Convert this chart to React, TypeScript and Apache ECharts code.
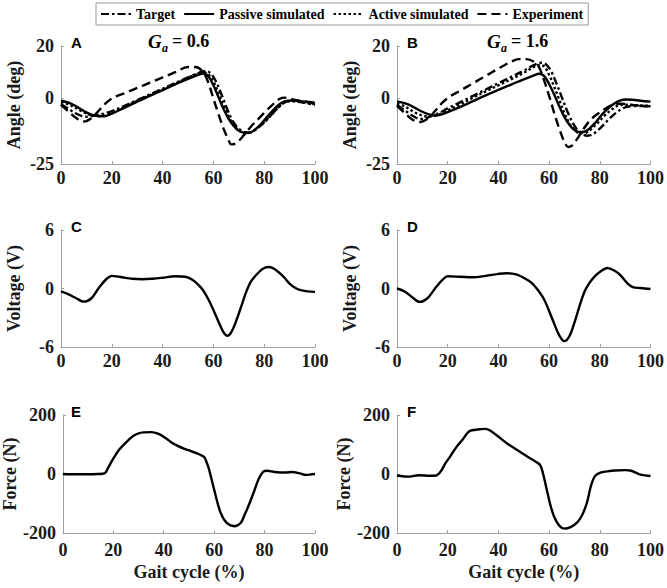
import React, { useEffect, useRef } from "react";
import * as echarts from "echarts";

// ---------- Panel A (G_a = 0.6), angle in deg ----------
const A_TARGET_X = [0, 3, 6, 9, 11, 13, 16, 20, 25, 30, 35, 40, 45, 50, 54, 57, 59, 61, 63, 65, 67, 69, 71, 73, 74, 76, 79, 82, 85, 88, 91, 95, 100];
const A_TARGET_Y = [-2.2, -4, -5.8, -6.9, -7, -6.5, -6, -4.8, -2.8, -0.6, 1.5, 3.7, 5.9, 8, 9.7, 10.5, 9.5, 6.5, 2, -3, -7.5, -10.5, -12.3, -13, -13, -12.3, -10, -7, -4, -1.5, -1, -1.5, -2.5];
const A_PASSIVE_X = [0, 3, 6, 9, 12, 15, 17, 20, 25, 30, 35, 40, 45, 50, 54, 56, 58, 60, 62, 64, 66, 68, 70, 72, 73, 75, 78, 80, 83, 86, 88, 91, 95, 100];
const A_PASSIVE_Y = [-0.9, -1.6, -3, -4.8, -6.2, -6.8, -6.8, -5.8, -3.5, -1.2, 1, 3.2, 5.4, 7.5, 9, 9.5, 8.5, 5, 0.5, -4, -7.8, -10.5, -12.3, -13.1, -13.2, -12.8, -10.5, -8.3, -5, -2.2, -1.1, -0.8, -1.1, -1.9];
const A_ACTIVE_X = [0, 3, 6, 9, 12, 15, 17, 20, 25, 30, 35, 40, 45, 50, 54, 56, 58, 60, 62, 64, 66, 68, 70, 72, 74, 76, 79, 82, 85, 88, 91, 95, 100];
const A_ACTIVE_Y = [-1.5, -2.3, -3.7, -5.3, -6.4, -6.7, -6.6, -5.5, -3.2, -0.9, 1.3, 3.5, 5.7, 7.9, 9.5, 10, 9.2, 6.5, 2, -2.8, -7, -10.2, -12.2, -13, -13, -12.2, -10, -7.2, -4, -1.5, -1, -1.5, -2.2];
const A_EXP_X = [0, 3, 6, 9, 12, 15, 18, 21, 25, 30, 35, 40, 45, 50, 53, 56, 58, 60, 62, 64, 66, 67, 69, 72, 75, 78, 81, 84, 86, 88, 91, 95, 100];
const A_EXP_Y = [-2.4, -5, -7.5, -8.8, -7.5, -4.5, -1.5, 0.5, 2, 4, 6, 8, 10, 12, 12, 10, 6, 0, -6, -11.5, -16, -17.5, -17, -14, -10.5, -7.5, -4.5, -1.8, -0.2, 0.3, -0.3, -1, -1.6];

// ---------- Panel B (G_a = 1.6), angle in deg ----------
const B_TARGET_X = [0, 3, 6, 9, 11, 13, 16, 20, 25, 30, 35, 40, 45, 50, 54, 57, 59, 61, 63, 65, 67, 69, 71, 73, 75, 77, 80, 83, 86, 89, 92, 96, 100];
const B_TARGET_Y = [-2.5, -4.5, -6.5, -7.8, -7.8, -6.8, -5.8, -3.8, -1.4, 1, 3.4, 5.8, 8.2, 10.6, 12.7, 13.6, 12.8, 10, 5.5, 0.5, -4.5, -8.7, -11.8, -13.6, -14.2, -13.8, -11.5, -8.5, -5.8, -3.8, -3, -2.9, -3];
const B_PASSIVE_X = [0, 3, 6, 9, 12, 15, 17, 20, 25, 30, 35, 40, 45, 50, 54, 56, 58, 60, 62, 64, 66, 68, 70, 72, 73, 75, 78, 81, 84, 87, 90, 93, 96, 100];
const B_PASSIVE_Y = [-1.1, -1.8, -3, -4.6, -5.9, -6.5, -6.3, -5.2, -3.2, -1, 1.2, 3.3, 5.3, 7.3, 8.8, 9.4, 8.6, 5.5, 1.5, -3, -7, -10, -12, -12.8, -12.8, -12.2, -9.5, -6, -3.2, -1.2, -0.4, -0.5, -0.9, -1.2];
const B_ACTIVE_X = [0, 3, 6, 9, 12, 15, 18, 20, 25, 30, 35, 40, 45, 50, 54, 56, 58, 60, 62, 64, 66, 68, 70, 72, 74, 76, 79, 82, 85, 88, 91, 95, 100];
const B_ACTIVE_Y = [-2, -3, -4.8, -6.2, -6.8, -6.6, -5.5, -4.6, -2.2, 0.3, 2.7, 5, 7.3, 9.8, 12, 12.8, 12.2, 9, 4.5, -0.5, -5.5, -9.5, -12, -13.2, -13.2, -12.2, -9.5, -6.5, -4, -2.5, -2.4, -2.6, -2.8];
const B_EXP_X = [0, 3, 6, 9, 12, 15, 18, 21, 25, 30, 35, 40, 45, 48, 51, 54, 56, 58, 60, 62, 64, 66, 67.5, 69, 71, 73, 76, 79, 82, 85, 88, 92, 96, 100];
const B_EXP_Y = [-2.8, -5.5, -8, -9, -7.8, -4.8, -1.5, 0.8, 3, 5.8, 8.6, 11.4, 14, 15, 15, 14, 12, 7, 1, -5.5, -11.5, -16.5, -18.5, -18, -15.5, -12.5, -8.5, -6, -4, -2.5, -2, -2.4, -2.8, -3];

// ---------- Panels C, D: voltage (V) ----------
const C_X = [0, 3, 6, 9, 12, 15, 18, 20, 24, 28, 32, 36, 40, 45, 49, 52, 54, 56, 58, 60, 62, 64, 65.5, 67, 69, 71, 73, 75, 78, 80, 82, 84, 86, 88, 90, 92, 94, 97, 100];
const C_Y = [-0.3, -0.6, -1.0, -1.35, -1.0, 0.1, 1.0, 1.3, 1.15, 1.0, 0.95, 1.0, 1.1, 1.25, 1.2, 0.85, 0.4, -0.2, -1.1, -2.2, -3.4, -4.5, -4.85, -4.5, -3.3, -1.8, -0.3, 0.8, 1.7, 2.1, 2.2, 2.0, 1.6, 1.1, 0.5, 0.1, -0.15, -0.3, -0.35];
const D_X = [0, 3, 6, 9, 12, 15, 18, 20, 25, 30, 35, 40, 43, 47, 50, 53, 56, 58, 60, 62, 64, 66, 68, 70, 72, 74, 76, 78, 80, 83, 86, 88, 91, 93, 96, 100];
const D_Y = [0, -0.3, -0.9, -1.37, -1.0, 0, 0.9, 1.25, 1.2, 1.15, 1.3, 1.5, 1.57, 1.45, 1.1, 0.6, -0.3, -1.1, -2.3, -3.6, -4.8, -5.4, -4.9, -3.5, -1.8, -0.3, 0.6, 1.25, 1.7, 2.1, 1.8, 1.4, 0.5, 0.15, 0.05, -0.05];

// ---------- Panels E, F: force (N) ----------
const E_X = [0, 5, 10, 14, 16.5, 18, 19.5, 22, 24, 26, 28, 30, 32, 35, 38, 41, 44, 48, 51, 54, 56, 57, 58, 60, 62.5, 65, 68, 70.5, 72, 74, 76, 77.5, 79.5, 81, 84, 88, 91, 94, 96.5, 98, 100];
const E_Y = [0, -1, -1, 0, 2, 22, 45, 79, 98, 115, 130, 138, 141, 142, 136, 120, 102, 86, 77, 67, 58, 40, 15, -53, -130, -166, -177, -166, -140, -100, -55, -20, 8, 11, 7, 5, 7, 2, -3, -2, 0];
const F_X = [0, 5, 8.5, 13, 15.5, 17.5, 19, 21, 23.5, 26, 28.5, 31, 33, 35, 37, 39, 41, 44, 48, 52, 55, 56.5, 57.5, 59, 60.5, 62, 64, 66, 68.5, 71, 73, 75, 76.5, 78, 80, 83, 86, 90, 92, 96, 100];
const F_Y = [-5, -9, -4, -6, -5, 12, 35, 60, 92, 118, 145, 150, 152, 153, 146, 133, 120, 100, 78, 56, 40, 30, 5, -50, -105, -145, -175, -185, -180, -165, -140, -95, -40, -8, 4, 9, 12, 13, 12, -2, -7];

// ---------- Axes / labels ----------
const X_MIN = 0;
const X_MAX = 100;
const X_INTERVAL = 20;
const ANGLE_TICKS = [-25, 0, 20];
const VOLT_TICKS = [-6, 0, 6];
const FORCE_TICKS = [-200, 0, 200];
const LEGEND_NAMES = ["Target", "Passive simulated", "Active simulated", "Experiment"];
const PANEL_LETTERS = ["A", "B", "C", "D", "E", "F"];
const GAINS = ["0.6", "1.6"];

const SERIF = "'Liberation Serif', 'Times New Roman', serif";
const SANS = "'Liberation Sans', Arial, sans-serif";
const AXIS_GRAY = "#a0a0a0";
const TEXT = "#1a1a1a";

const pairs = (xs: number[], ys: number[]) => xs.map((x, i) => [x, ys[i]]);

export default function App() {
  const ref = useRef<HTMLDivElement>(null);

  useEffect(() => {
    if (!ref.current) return;
    const chart = echarts.init(ref.current, null, { renderer: "svg" });

    const lefts = [61, 397];
    const tops = [46, 230, 415];
    const heights = [118, 117, 118];
    const grids: any[] = [];
    for (let r = 0; r < 3; r++) {
      for (let c = 0; c < 2; c++) {
        grids.push({ left: lefts[c], top: tops[r], width: 254, height: heights[r], containLabel: false });
      }
    }

    const yTicks = [ANGLE_TICKS, ANGLE_TICKS, VOLT_TICKS, VOLT_TICKS, FORCE_TICKS, FORCE_TICKS];
    const yNames = ["Angle (deg)", "Angle (deg)", "Voltage (V)", "Voltage (V)", "Force (N)", "Force (N)"];

    const xAxes = grids.map((_, i) => ({
      type: "value",
      gridIndex: i,
      min: X_MIN,
      max: X_MAX,
      interval: X_INTERVAL,
      name: i >= 4 ? "Gait cycle (%)" : "",
      nameLocation: "middle",
      nameGap: 30,
      nameTextStyle: { fontFamily: SERIF, fontWeight: "bold", fontSize: 18, color: TEXT },
      axisLine: { show: true, onZero: false, lineStyle: { color: AXIS_GRAY, width: 1 } },
      axisTick: { show: true, inside: true, length: 3, lineStyle: { color: AXIS_GRAY } },
      axisLabel: { fontFamily: SERIF, fontWeight: "bold", fontSize: 18, color: TEXT, margin: i >= 4 ? 8 : 5 },
      splitLine: { show: false },
    }));

    const yAxes = grids.map((_, i) => {
      const t = yTicks[i];
      return {
        type: "value",
        gridIndex: i,
        min: t[0],
        max: t[2],
        name: yNames[i],
        nameLocation: "middle",
        nameGap: i >= 4 ? 42 : 38,
        nameTextStyle: { fontFamily: SERIF, fontWeight: "bold", fontSize: 18, color: TEXT },
        axisLine: { show: true, onZero: false, lineStyle: { color: AXIS_GRAY, width: 1 } },
        axisTick: { show: true, inside: true, length: 3, customValues: t, lineStyle: { color: AXIS_GRAY } },
        axisLabel: { fontFamily: SERIF, fontWeight: "bold", fontSize: 18, color: TEXT, margin: 7, customValues: t },
        splitLine: { show: false },
      };
    });

    const styles: Record<string, any> = {
      Target: [8, 3, 2.5, 3],
      "Passive simulated": "solid",
      "Active simulated": [2.5, 2.5],
      Experiment: [9, 5],
    };

    const mk = (name: string, idx: number, data: number[][], z = 2) => ({
      name,
      type: "line",
      xAxisIndex: idx,
      yAxisIndex: idx,
      data,
      symbol: "none",
      showSymbol: false,
      smooth: 0.35,
      z,
      lineStyle: { color: "#000", width: 2.4, type: styles[name] || "solid", cap: "butt" },
      itemStyle: { color: "#000" },
    });

    const series: any[] = [
      mk("Target", 0, pairs(A_TARGET_X, A_TARGET_Y)),
      mk("Passive simulated", 0, pairs(A_PASSIVE_X, A_PASSIVE_Y)),
      mk("Active simulated", 0, pairs(A_ACTIVE_X, A_ACTIVE_Y)),
      mk("Experiment", 0, pairs(A_EXP_X, A_EXP_Y)),
      mk("Target", 1, pairs(B_TARGET_X, B_TARGET_Y)),
      mk("Passive simulated", 1, pairs(B_PASSIVE_X, B_PASSIVE_Y)),
      mk("Active simulated", 1, pairs(B_ACTIVE_X, B_ACTIVE_Y)),
      mk("Experiment", 1, pairs(B_EXP_X, B_EXP_Y)),
      mk("Voltage C", 2, pairs(C_X, C_Y)),
      mk("Voltage D", 3, pairs(D_X, D_Y)),
      mk("Force E", 4, pairs(E_X, E_Y)),
      mk("Force F", 5, pairs(F_X, F_Y)),
    ];

    const letterPos = [
      [71, 35], [407, 35], [71, 219], [407, 219], [71, 404], [407, 404],
    ];
    const graphics: any[] = PANEL_LETTERS.map((L, i) => ({
      type: "text",
      left: letterPos[i][0],
      top: letterPos[i][1],
      style: { text: L, font: `bold 15px ${SANS}`, fill: "#000" },
    }));

    const titleX = [148, 487];
    GAINS.forEach((g, i) => {
      const x0 = titleX[i];
      graphics.push(
        { type: "text", x: x0, y: 41, style: { text: "G", font: `italic bold 19px ${SERIF}`, fill: "#000", verticalAlign: "middle" } },
        { type: "text", x: x0 + 14, y: 48, style: { text: "a", font: `italic bold 12px ${SERIF}`, fill: "#000", verticalAlign: "middle" } },
        { type: "text", x: x0 + 24, y: 41, style: { text: "= " + g, font: `bold 18px ${SERIF}`, fill: "#000", verticalAlign: "middle" } }
      );
    });

    chart.setOption({
      animation: false,
      backgroundColor: "#fff",
      grid: grids,
      xAxis: xAxes,
      yAxis: yAxes,
      legend: {
        data: LEGEND_NAMES,
        left: 96,
        top: 3,
        itemWidth: 30,
        itemHeight: 10,
        itemGap: 8,
        padding: [4, 5, 4, 4],
        borderColor: "#999",
        borderWidth: 1,
        selectedMode: false,
        itemStyle: { opacity: 0 },
        lineStyle: { opacity: 1 },
        textStyle: { fontFamily: SERIF, fontWeight: "bold", fontSize: 14, color: "#000" },
      },
      graphic: graphics,
      series,
    });

    return () => chart.dispose();
  }, []);

  return (
    <div
      ref={ref}
      style={{ position: "fixed", left: 0, top: 0, width: 667, height: 588, background: "#fff" }}
    />
  );
}
